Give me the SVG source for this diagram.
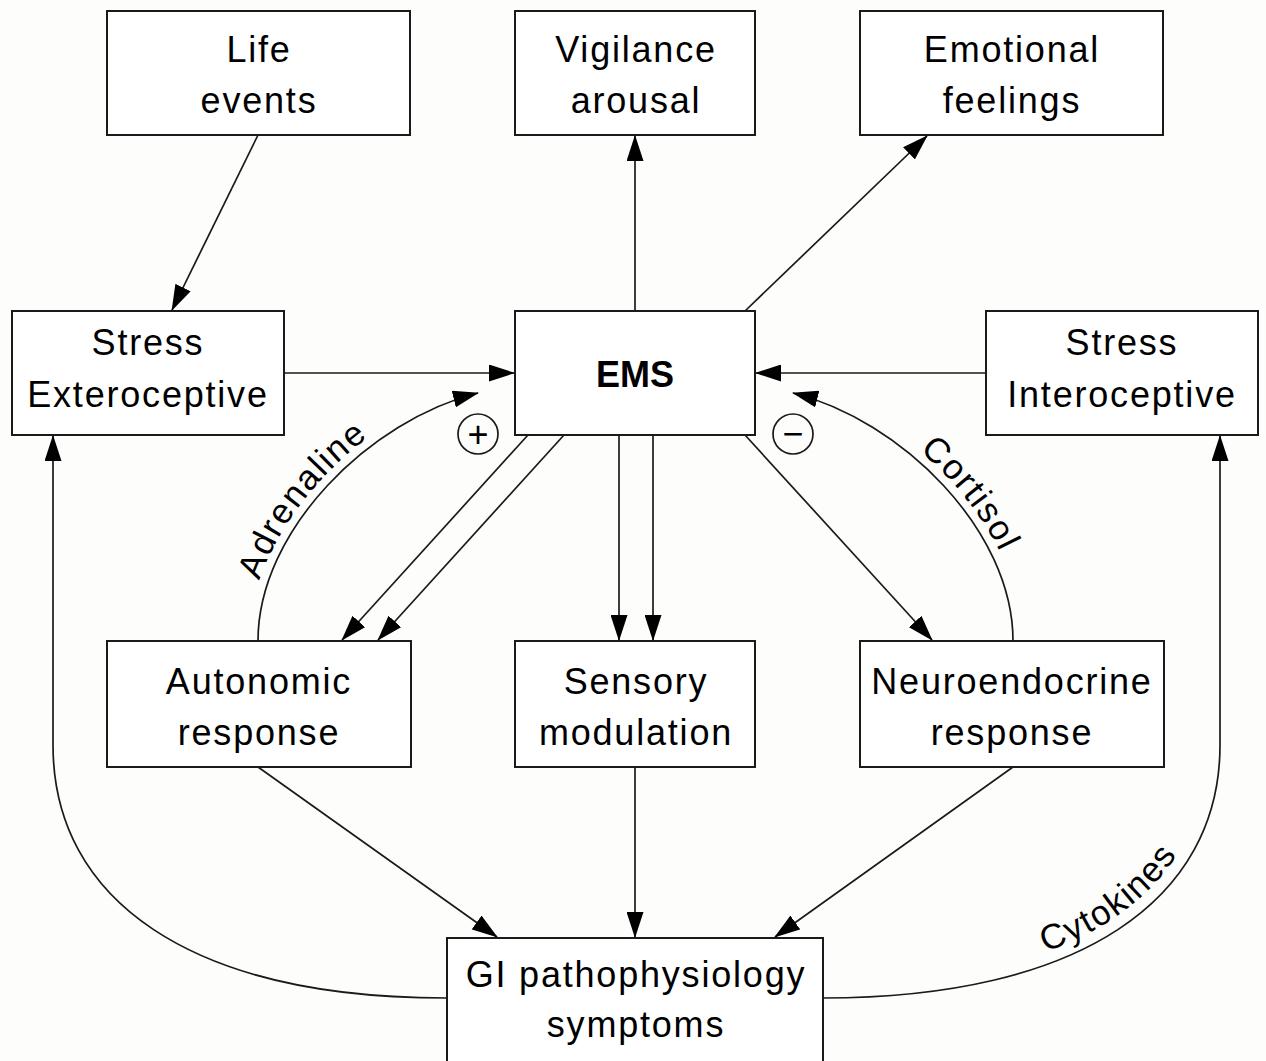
<svg xmlns="http://www.w3.org/2000/svg" width="1266" height="1061" viewBox="0 0 1266 1061">
<defs>
<style>
.box{fill:#fff;stroke:#1a1a1a;stroke-width:2}
.t{font-family:"Liberation Sans",Arial,sans-serif;font-size:36px;letter-spacing:1.8px;fill:#000;text-anchor:middle}
.b{font-weight:bold;letter-spacing:0}
.lbl{font-family:"Liberation Sans",Arial,sans-serif;font-size:35px;letter-spacing:1.6px;fill:#000;text-anchor:middle}
.c{fill:none;stroke:#1a1a1a;stroke-width:1.7}
.a{marker-end:url(#ah)}
.sym{font-family:"Liberation Sans",Arial,sans-serif;font-size:36px;fill:#000;text-anchor:middle}
</style>
<marker id="ah" markerUnits="userSpaceOnUse" markerWidth="26" markerHeight="17" viewBox="0 0 26 17" refX="25" refY="8.5" orient="auto">
<path d="M0,0 L26,8.5 L0,17 z" fill="#000"/>
</marker>
<path id="pAdr" d="M249,641 C249,528 365,411 476,384"/>
<path id="pCor" d="M795,384 C906,411 1022,528 1022,641"/>
<path id="pCyt" d="M823,985 C1072,985 1207,896 1207,745"/>
</defs>
<rect width="1266" height="1061" fill="#fdfdfc"/>

<g id="connectors">
<path class="c a" d="M258,135 L172,310"/>
<path class="c a" d="M635,311 L635,136"/>
<path class="c a" d="M745,311 L927,136"/>
<path class="c a" d="M284,373 L514,373"/>
<path class="c a" d="M986,373 L756,373"/>
<path class="c a" d="M528,435 L342,640"/>
<path class="c a" d="M564,435 L378,640"/>
<path class="c a" d="M619,435 L619,640"/>
<path class="c a" d="M653,435 L653,640"/>
<path class="c a" d="M745,435 L932,640"/>
<path class="c a" d="M258,767 L497,937"/>
<path class="c a" d="M635,767 L635,937"/>
<path class="c a" d="M1013,767 L775,937"/>
<path class="c a" d="M258,641 C258,530 370,420 478,393"/>
<path class="c a" d="M1013,641 C1013,530 901,420 793,393"/>
<path class="c a" d="M447,998 C190,998 53,900 53,745 L53,436"/>
<path class="c a" d="M823,998 C1080,998 1220,900 1220,745 L1220,436"/>
<text class="lbl"><textPath href="#pAdr" startOffset="42%">Adrenaline</textPath></text>
<text class="lbl"><textPath href="#pCor" startOffset="57%">Cortisol</textPath></text>
<text class="lbl"><textPath href="#pCyt" startOffset="61%">Cytokines</textPath></text>
<g id="plus"><circle cx="478" cy="434" r="20" fill="none" stroke="#1a1a1a" stroke-width="1.7"/><text class="sym" x="478" y="447">+</text></g>
<g id="minus"><circle cx="793" cy="434" r="20" fill="none" stroke="#1a1a1a" stroke-width="1.7"/><text class="sym" x="793" y="446">−</text></g>
</g>

<g id="life-events"><rect class="box" x="107" y="11" width="303" height="124"/><text class="t" x="259" y="62">Life</text><text class="t" x="259" y="113">events</text></g>
<g id="vigilance-arousal"><rect class="box" x="515" y="11" width="240" height="124"/><text class="t" x="636" y="62">Vigilance</text><text class="t" x="636" y="113">arousal</text></g>
<g id="emotional-feelings"><rect class="box" x="860" y="11" width="303" height="124"/><text class="t" x="1012" y="62">Emotional</text><text class="t" x="1012" y="113">feelings</text></g>
<g id="stress-exteroceptive"><rect class="box" x="12" y="311" width="272" height="124"/><text class="t" x="148" y="355">Stress</text><text class="t" x="148" y="407">Exteroceptive</text></g>
<g id="ems"><rect class="box" x="515" y="311" width="240" height="124"/><text class="t b" x="635" y="387">EMS</text></g>
<g id="stress-interoceptive"><rect class="box" x="986" y="311" width="272" height="124"/><text class="t" x="1122" y="355">Stress</text><text class="t" x="1122" y="407">Interoceptive</text></g>
<g id="autonomic-response"><rect class="box" x="107" y="641" width="304" height="126"/><text class="t" x="259" y="694">Autonomic</text><text class="t" x="259" y="745">response</text></g>
<g id="sensory-modulation"><rect class="box" x="515" y="641" width="240" height="126"/><text class="t" x="636" y="694">Sensory</text><text class="t" x="636" y="745">modulation</text></g>
<g id="neuroendocrine-response"><rect class="box" x="860" y="641" width="304" height="126"/><text class="t" x="1012" y="694">Neuroendocrine</text><text class="t" x="1012" y="745">response</text></g>
<g id="gi-pathophysiology"><rect class="box" x="447" y="938" width="376" height="140"/><text class="t" x="636" y="987">GI pathophysiology</text><text class="t" x="636" y="1037">symptoms</text></g>
</svg>
